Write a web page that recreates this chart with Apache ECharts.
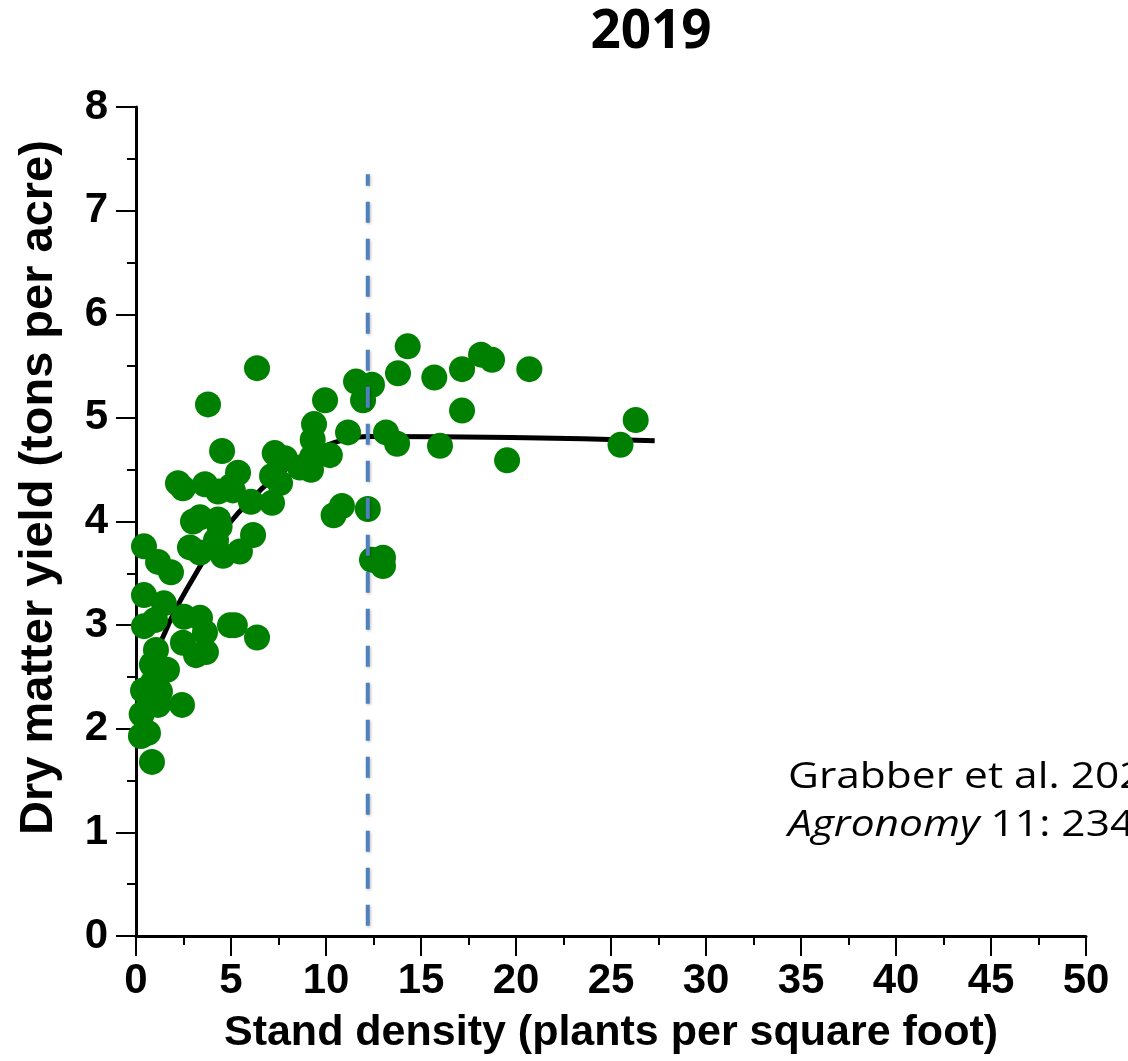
<!DOCTYPE html>
<html>
<head>
	<meta charset="UTF-8">
	<title>2019 stand density vs yield</title>
	<style type="text/css">
		html, body {
			margin: 0;
			padding: 0;
			background: #fff;
		}
		#chart {
			width: 1128px;
			height: 1061px;
		}
	</style>
</head>
<body>
	<div id="chart"></div>

	<script type="text/javascript" src="https://cdn.jsdelivr.net/npm/echarts@6/dist/echarts.min.js"></script>
	<script type="text/javascript">
		// plants per square foot
		var densityX = [
			0.42, 0.42, 0.42, 0.37, 0.3, 0.26, 0.63, 0.84, 1.16, 1.84,
			1.47, 1.0, 1.05, 0.84, 1.0, 1.26, 1.16, 1.63, 2.42, 2.21,
			2.47, 2.53, 2.47, 2.84, 3.37, 3.37, 3.16, 3.68, 3.63, 3.79,
			3.63, 3.37, 4.32, 4.32, 4.53, 4.21, 4.58, 4.95, 5.2, 5.0,
			5.37, 5.47, 6.16, 6.05, 6.37, 6.37, 7.16, 7.16, 7.3, 7.58,
			7.84, 8.63, 9.21, 9.3, 9.37, 9.26, 9.95, 10.2, 10.4, 10.84,
			11.16, 11.58, 11.95, 12.2, 12.42, 12.42, 13.0, 13.0, 13.16, 13.74,
			13.79, 14.3, 15.7, 16.0, 17.16, 17.16, 18.16, 18.74, 19.53, 20.7,
			25.5, 26.3, 1.37, 0.9, 3.0, 4.4, 5.1, 0.7
		];
		// tons per acre
		var yieldY = [
			3.76, 3.29, 2.99, 2.37, 2.14, 1.93, 1.96, 1.68, 3.61, 3.51,
			3.21, 3.05, 2.76, 2.62, 2.47, 2.36, 2.23, 2.57, 2.23, 4.37,
			4.32, 3.08, 2.83, 3.75, 4.04, 3.07, 2.71, 2.74, 2.93, 5.13,
			4.36, 3.70, 4.02, 4.29, 4.68, 3.82, 3.67, 3.0, 3.0, 4.34,
			4.47, 3.71, 3.87, 4.19, 2.88, 5.48, 4.44, 4.18, 4.66, 4.37,
			4.61, 4.52, 4.50, 4.79, 4.94, 4.62, 5.17, 4.64, 4.06, 4.15,
			4.86, 5.35, 5.17, 4.12, 5.32, 3.63, 3.57, 3.65, 4.86, 4.75,
			5.43, 5.69, 5.39, 4.73, 5.07, 5.47, 5.61, 5.56, 4.59, 5.47,
			4.74, 4.98, 2.58, 2.45, 4.0, 3.95, 4.3, 2.3
		];

		// fitted response curve
		var fitX = [0.5, 1.4, 2, 3, 4, 5, 6, 7, 8, 9, 10, 11, 12.2, 27.3];
		var fitY = [2.55, 2.88, 3.12, 3.45, 3.75, 4.0, 4.2, 4.38, 4.52, 4.64, 4.73, 4.79, 4.82, 4.78];

		// optimum density marker
		var optimumX = 12.2;
		var optimumYRange = [0.1, 7.35];

		var xTicks = [0, 50, 5];
		var yTicks = [0, 8, 1];

		var chart = echarts.init(document.getElementById('chart'));

		var points = densityX.map(function (x, i) { return [x, yieldY[i]]; });
		var fitLine = fitX.map(function (x, i) { return [x, fitY[i]]; });
		var optimumLine = optimumYRange.map(function (y) { return [optimumX, y]; });

		var axisFont = {
			fontFamily: 'Liberation Sans',
			fontWeight: 'bold',
			color: '#000'
		};

		var option = {
			animation: false,
			title: {
				text: '2019',
				left: 646,
				top: 1,
				textAlign: 'center',
				textStyle: {
					fontFamily: 'Open Sans',
					fontWeight: 'bold',
					fontSize: 53,
					color: '#000'
				}
			},
			grid: {
				left: 136,
				right: 42,
				top: 107,
				bottom: 125
			},
			xAxis: {
				type: 'value',
				min: xTicks[0],
				max: xTicks[1],
				interval: xTicks[2],
				name: 'Stand density (plants per square foot)',
				nameLocation: 'middle',
				nameGap: 76,
				nameTextStyle: Object.assign({ fontSize: 43 }, axisFont),
				axisLine: { show: true, onZero: false, lineStyle: { color: '#000', width: 3 } },
				axisTick: { show: true, length: 20, lineStyle: { color: '#000', width: 2 } },
				minorTick: { show: true, splitNumber: 2, length: 9, lineStyle: { color: '#000', width: 2 } },
				axisLabel: Object.assign({ fontSize: 42, margin: 24 }, axisFont),
				splitLine: { show: false }
			},
			yAxis: {
				type: 'value',
				min: yTicks[0],
				max: yTicks[1],
				interval: yTicks[2],
				name: 'Dry matter yield (tons per acre)',
				nameLocation: 'middle',
				nameGap: 73,
				nameRotate: 90,
				nameTextStyle: Object.assign({ fontSize: 47, padding: [0, 0, 0, 68] }, axisFont),
				axisLine: { show: true, onZero: false, lineStyle: { color: '#000', width: 3 } },
				axisTick: { show: true, length: 20, lineStyle: { color: '#000', width: 2 } },
				minorTick: { show: true, splitNumber: 2, length: 9, lineStyle: { color: '#000', width: 2 } },
				axisLabel: Object.assign({ fontSize: 42, margin: 28 }, axisFont),
				splitLine: { show: false }
			},
			graphic: [
				{
					type: 'text',
					x: 788,
					y: 760,
					scaleX: 1.18,
					style: {
						text: 'Grabber et al. 2021',
						font: '36px "Open Sans"',
						fill: '#000'
					}
				},
				{
					type: 'text',
					x: 788,
					y: 808,
					scaleX: 1.18,
					style: {
						text: '{i|Agronomy} 11: 2345',
						font: '36px "Open Sans"',
						fill: '#000',
						rich: {
							i: { fontStyle: 'italic', fontFamily: 'Open Sans', fontSize: 36 }
						}
					}
				}
			],
			series: [
				{
					name: 'fit',
					type: 'line',
					data: fitLine,
					smooth: true,
					showSymbol: false,
					symbol: 'none',
					lineStyle: { color: '#000', width: 5 },
					z: 2
				},
				{
					name: 'plots',
					type: 'scatter',
					data: points,
					symbolSize: 26,
					itemStyle: { color: '#008000', opacity: 1 },
					z: 3
				},
				{
					name: 'optimum',
					type: 'line',
					data: optimumLine,
					showSymbol: false,
					symbol: 'none',
					lineStyle: {
						color: '#4f81bd',
						width: 4,
						type: [21, 16],
						shadowColor: 'rgba(0,0,0,0.25)',
						shadowBlur: 3,
						shadowOffsetX: 1,
						shadowOffsetY: 1
					},
					z: 4
				}
			]
		};

		chart.setOption(option);
	</script>
</body>
</html>
